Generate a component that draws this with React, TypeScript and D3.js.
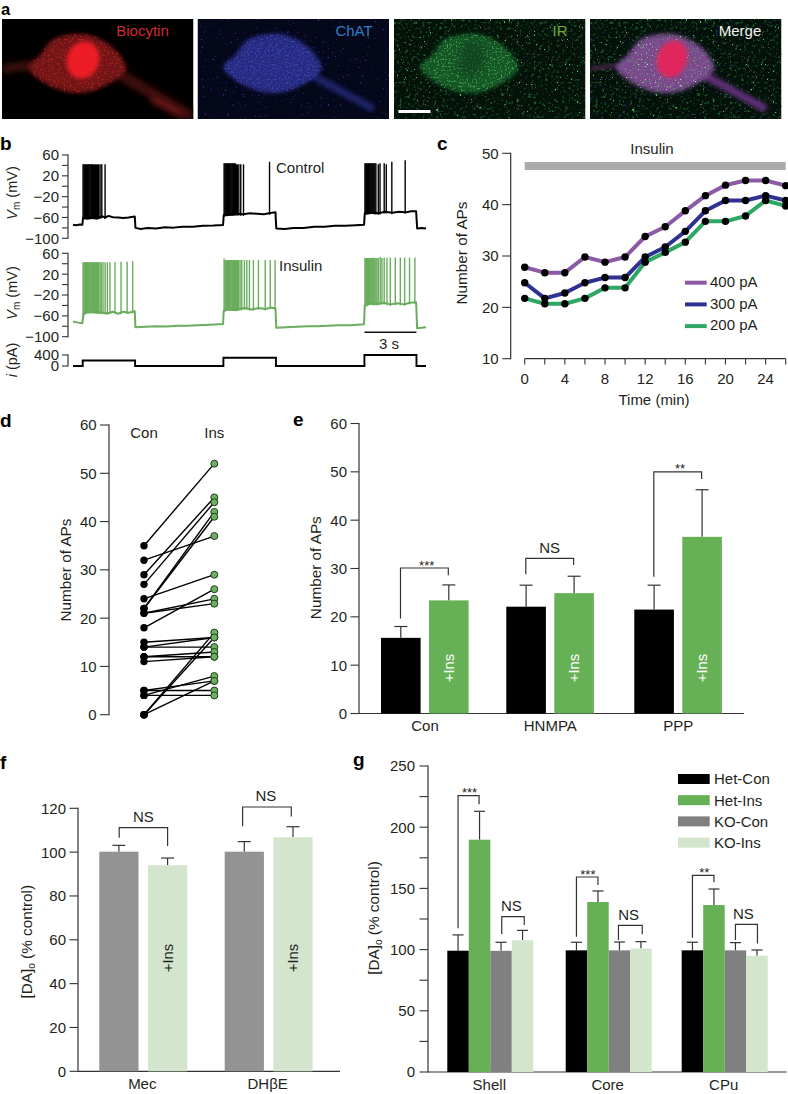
import React from "react";
import * as d3 from "d3";

/* ---------- data ---------- */
const INK = "#231f20";
const AX = "#333";
const GREEN = "#66b056";
const LGREEN = "#d3e5cc";
const GRAY = "#939393";
const DGRAY = "#808080";

// panel b: membrane potential (mV) knots against time (s)
const controlBase: [number, number][] = [[0,-74],[.2,-75],[.4,-73.5],[.54,-74],[.58,-60],[.8,-61],[1.1,-60],[1.4,-61],[1.7,-58],[1.85,-60],[2.05,-57],[2.3,-59.5],[2.6,-60],[2.9,-61],[3.2,-60],[3.56,-58],[3.6,-80],[3.9,-82],[4.3,-80],[4.8,-81],[5.3,-79],[5.8,-79.5],[6.3,-78],[6.9,-78],[7.5,-76],[8.1,-75.5],[8.65,-74.5],[8.69,-55],[9,-54],[9.4,-53],[9.8,-54],[10.2,-52],[10.6,-53],[11,-54],[11.3,-52],[11.67,-50],[11.72,-81],[12.2,-82],[12.7,-80],[13.3,-80],[13.9,-78],[14.5,-78],[15.1,-76],[15.7,-76],[16.3,-75],[16.78,-74],[16.82,-52],[17.2,-50],[17.6,-52],[18,-49],[18.4,-51],[18.8,-49],[19.2,-50],[19.5,-48],[19.78,-48],[19.84,-81],[20.1,-80],[20.35,-81]];
const insulinBase: [number, number][] = [[0,-71],[.3,-73],[.54,-74],[.6,-58],[.7,-53],[1,-52],[1.5,-53],[2,-55],[2.3,-52],[2.6,-56],[2.9,-52],[3.2,-54],[3.56,-51],[3.6,-82],[4.2,-81],[4.8,-80],[5.4,-80.5],[6,-79],[6.6,-79],[7.2,-78],[7.9,-77],[8.65,-75.5],[8.69,-50],[8.9,-47],[9.4,-48],[9.9,-45],[10.3,-48],[10.7,-45],[11.1,-47],[11.4,-44],[11.67,-46],[11.72,-83],[12.3,-82],[12.9,-81],[13.5,-80],[14.1,-80],[14.7,-79],[15.3,-78],[16,-78],[16.78,-76],[16.82,-40],[17.1,-36],[17.5,-37],[17.9,-35],[18.3,-38],[18.7,-36],[19.1,-38],[19.4,-35],[19.78,-34],[19.84,-84],[20.1,-83],[20.35,-82]];
const controlSpikes: [number, number][] = [[.58,42],[.63,42],[.68,42],[.73,42],[.78,42],[.83,42],[.88,42],[.93,42],[.98,42],[1.03,42],[1.08,42],[1.13,42],[1.18,42],[1.24,42],[1.3,42],[1.36,42],[1.42,42],[1.48,42],[1.56,42],[1.66,42],[1.85,42],
  [8.71,44],[8.76,44],[8.81,44],[8.86,44],[8.91,44],[8.96,44],[9.01,44],[9.06,44],[9.11,44],[9.16,44],[9.21,44],[9.26,44],[9.31,44],[9.36,44],[9.42,42],[9.48,42],[9.56,42],[9.67,42],[9.83,42],[11.33,47],
  [16.83,44],[16.88,44],[16.93,44],[16.98,44],[17.03,44],[17.08,44],[17.13,44],[17.18,44],[17.23,44],[17.28,44],[17.34,44],[17.4,44],[17.46,44],[17.6,42],[17.7,44],[17.94,44],[18.06,42],[18.38,47],[19.15,50]];
const insulinSpikes: [number, number][] = [[.58,43],[.63,43],[.68,43],[.73,43],[.78,43],[.83,43],[.88,43],[.93,43],[.98,43],[1.03,43],[1.08,43],[1.13,43],[1.18,43],[1.24,43],[1.3,43],[1.36,43],[1.42,43],[1.48,43],[1.56,43],[1.63,43],[1.73,43],[1.85,43],[1.98,43],[2.13,43],[2.42,44],[2.77,44],[3.12,44],[3.44,45],
  [8.71,50],[8.76,47],[8.81,47],[8.86,47],[8.91,47],[8.96,47],[9.01,47],[9.06,47],[9.11,47],[9.16,47],[9.21,47],[9.26,47],[9.31,47],[9.36,47],[9.42,47],[9.48,47],[9.54,47],[9.63,47],[9.73,47],[9.88,47],[10.02,47],[10.17,47],[10.4,47],[10.69,47],[11.08,47],[11.37,47],[11.65,47],
  [16.83,51],[16.88,51],[16.93,51],[16.98,51],[17.03,51],[17.08,51],[17.13,51],[17.18,51],[17.23,51],[17.28,52],[17.34,51],[17.4,51],[17.46,51],[17.52,51],[17.6,51],[17.71,53],[17.81,51],[17.94,52],[18.1,51],[18.29,52],[18.58,52],[18.87,52],[19.12,52],[19.4,52],[19.71,52]];
const currentT = [0, .56, 3.58, 8.67, 11.7, 16.8, 19.8, 20.35];
const currentPA = [0, 200, 0, 300, 0, 400, 0, 0];

// panel c
const cTimes = [0,2,4,6,8,10,12,14,16,18,20,22,24,26];
const c400 = [27.8,26.75,26.75,29.8,28.8,29.8,33.8,35.7,38.8,41.75,43.8,44.7,44.7,43.7];
const c300 = [24.8,21.75,22.8,24.8,25.8,25.8,29.8,31.75,34.8,38.8,40.8,40.8,41.75,40.8];
const c200 = [21.75,20.7,20.7,21.75,23.8,23.8,28.8,30.7,32.7,36.75,36.75,37.8,40.8,39.75];
const cLegend = ["400 pA","300 pA","200 pA"];
const cColors = ["#8c5aa5","#2e3191","#2ea764"];

// panel d (con -> ins)
const dCon = [35,32,29,27,24,22,22,21,21,18,15,14,14,12,12,11,5,5,4,4,0,0,0];
const dIns = [52,37,45,44,29,42,41,24,23,26,16,14,16,13,12,12,5,7,8,4,17,16,7];

// panel e
const eCats = ["Con","HNMPA","PPP"];
const eConV = [15.65,22.1,21.5];
const eConE = [18,26.55,26.55];
const eInsV = [23.4,24.9,36.55];
const eInsE = [26.6,28.4,46.3];

// panel f
const fCats = ["Mec","DHβE"];
const fConV = [100.2,100.2];
const fConE = [103.1,104.8];
const fInsV = [94,106.8];
const fInsE = [97.3,111.6];

// panel g
const gCats = ["Shell","Core","CPu"];
const gLegend = ["Het-Con","Het-Ins","KO-Con","KO-Ins"];
const gColors = ["#000000",GREEN,DGRAY,LGREEN];
const gHetConV = [99.1,99.4,99.4];
const gHetConE = [112,106,106];
const gHetInsV = [189.8,138.9,136.4];
const gHetInsE = [213,147.9,149.5];
const gKoConV = [99,99.4,99.4];
const gKoConE = [106,106.2,105.7];
const gKoInsV = [107.6,100.8,95];
const gKoInsE = [115.7,106.5,99.7];

/* ---------- scales ---------- */
const tX = d3.scaleLinear().domain([0,20.35]).range([73,426]);
const v1Y = d3.scaleLinear().domain([-100,60]).range([238.3,155]);
const v2Y = d3.scaleLinear().domain([-100,60]).range([336.7,253.3]);
const iY = d3.scaleLinear().domain([0,400]).range([366,355]);
const cX = d3.scaleLinear().domain([0,26]).range([524.7,785.7]);
const cY = d3.scaleLinear().domain([10,50]).range([358.7,153.3]);
const dY = d3.scaleLinear().domain([0,60]).range([714.7,425]);
const dX = d3.scalePoint<string>().domain(["Con","Ins"]).range([144,214.3]);
const eY = d3.scaleLinear().domain([0,60]).range([713.5,423.5]);
const fY = d3.scaleLinear().domain([0,120]).range([1071.3,808.3]);
const gY = d3.scaleLinear().domain([0,250]).range([1072,766]);

/* ---------- helpers ---------- */
const FONT = "'Liberation Sans', Arial, sans-serif";
const minus = (v: number) => String(v).replace("-", "\u2212");

function YAxis({ scale, x, ticks, labels, len = 8.5, gap = 4, size = 15 }: any) {
  const [a, b] = scale.range();
  return (
    <g>
      <line x1={x} x2={x} y1={a + 0.5} y2={b - 0.5} stroke={AX} strokeWidth={1.2} />
      {ticks.map((t: number) => (
        <line key={t} x1={x - len} x2={x} y1={scale(t)} y2={scale(t)} stroke={AX} strokeWidth={1.1} />
      ))}
      {labels.map((t: number) => (
        <text key={t} x={x - len - gap} y={scale(t) + size * 0.36} textAnchor="end" fontSize={size} fill={INK}>{minus(t)}</text>
      ))}
    </g>
  );
}

function VTitle({ x, y, children, size = 15.3 }: any) {
  return <text transform={`translate(${x},${y}) rotate(-90)`} textAnchor="middle" fontSize={size} fill={INK}>{children}</text>;
}

function Trace({ base, spikes, y, color }: any) {
  const line = d3.line<[number, number]>().x(d => tX(d[0])).y(d => y(d[1]));
  const baseAt = d3.scaleLinear().domain(base.map((d: any) => d[0])).range(base.map((d: any) => d[1]));
  return (
    <g stroke={color} fill="none">
      <path d={line(base) as string} strokeWidth={2} strokeLinejoin="round" />
      {spikes.map((s: [number, number], i: number) => (
        <line key={i} x1={tX(s[0])} x2={tX(s[0])} y1={y(baseAt(s[0]) - 3)} y2={y(s[1])} strokeWidth={1.4} />
      ))}
    </g>
  );
}

function ErrBar({ x, y0, y1, cap }: any) {
  return (
    <g stroke={AX} strokeWidth={1.2}>
      <line x1={x} x2={x} y1={y0} y2={y1} />
      <line x1={x - cap / 2} x2={x + cap / 2} y1={y1} y2={y1} />
    </g>
  );
}

function Bracket({ x0, x1, top, l, r, label, y, labelDx = 0 }: any) {
  const stars = label.startsWith("*");
  const cx = (x0 + x1) / 2 + labelDx;
  return (
    <g>
      <path d={`M${x0},${y(l)}V${y(top)}H${x1}V${y(r)}`} fill="none" stroke={AX} strokeWidth={1.2} />
      {stars
        ? <text x={cx} y={y(top) + 1.5} textAnchor="middle" fontSize={13} fill={INK}>{label}</text>
        : <text x={cx} y={y(top) - 5.7} textAnchor="middle" fontSize={15} fill={INK}>{label}</text>}
    </g>
  );
}

/* ---------- panel a ---------- */
const soma: [number, number][] = [[26,48],[38,36],[50,21],[82,15],[105,24],[118,36],[124,50],[108,64],[80,74],[50,68]];
const somaPath = d3.line().curve(d3.curveCatmullRomClosed)(soma) as string;

function Speck({ id, color, freq, k, off, seed }: any) {
  const c = d3.rgb(color);
  return (
    <filter id={id} x="0" y="0" width="100%" height="100%" colorInterpolationFilters="sRGB">
      <feTurbulence type="fractalNoise" baseFrequency={freq} numOctaves={2} seed={seed} />
      <feColorMatrix type="matrix" values={`0 0 0 0 ${c.r / 255} 0 0 0 0 ${c.g / 255} 0 0 0 0 ${c.b / 255} ${k} 0 0 0 ${off}`} />
      <feGaussianBlur stdDeviation={0.45} />
    </filter>
  );
}

function Micro({ x, idx, bg, children, label, labelColor, labelX }: any) {
  return (
    <g>
      <clipPath id={`img${idx}`}><rect x={0} y={0} width={191.5} height={100} /></clipPath>
      <g transform={`translate(${x},19)`} clipPath={`url(#img${idx})`}>
        <rect width={191.5} height={100} fill={bg} />
        {children}
      </g>
      <text x={labelX} y={36} textAnchor="middle" fontSize={15} fill={labelColor}>{label}</text>
    </g>
  );
}

function PanelA() {
  const rect = (f: string, op = 1) => <rect width={191.5} height={100} filter={`url(#${f})`} opacity={op} />;
  const cell = (f: string, op = 1) => <g clipPath="url(#somaClip)">{rect(f, op)}</g>;
  return (
    <g>
      <defs>
        <filter id="b1" x="-30%" y="-30%" width="160%" height="160%"><feGaussianBlur stdDeviation={2.2} /></filter>
        <filter id="b3" x="-30%" y="-30%" width="160%" height="160%"><feGaussianBlur stdDeviation={3.2} /></filter>
        <clipPath id="somaClip"><path d={somaPath} /></clipPath>
        <Speck id="sRed" color="#d8222a" freq={0.5} k={6} off={-3.2} seed={3} />
        <Speck id="sBlue" color="#4453c4" freq={0.55} k={6} off={-3.1} seed={5} />
        <Speck id="sBlueBg" color="#2f349a" freq={0.4} k={12} off={-8.6} seed={9} />
        <Speck id="sGreen" color="#45b856" freq={0.55} k={7} off={-3.9} seed={11} />
        <Speck id="sGreenBg" color="#1f6a30" freq={0.35} k={5} off={-2.9} seed={2} />
        <Speck id="sGreenHi" color="#5fcf6a" freq={0.4} k={12} off={-8.8} seed={14} />
        <Speck id="sWhite" color="#dff3c8" freq={0.6} k={10} off={-6.8} seed={7} />
      </defs>
      <Micro x={2} idx={1} bg="#000" label="Biocytin" labelColor="#d22a2e" labelX={142.5}>
        <g filter="url(#b3)">
          <path d="M0,50 L30,46" stroke="#4a1210" strokeWidth={7} />
          <path d="M112,52 L190,98" stroke="#3f0f0e" strokeWidth={11} />
          <path d="M150,80 L180,96" stroke="#6a1412" strokeWidth={7} />
        </g>
        <path d={somaPath} fill="#701514" filter="url(#b1)" />
        {cell("sRed", 0.55)}
        <ellipse cx={81} cy={41} rx={19} ry={16} transform="rotate(-70 81 41)" fill="#ee1c28" filter="url(#b1)" />
      </Micro>
      <Micro x={197.5} idx={2} bg="#05071a" label="ChAT" labelColor="#2c7fc4" labelX={354}>
        {rect("sBlueBg")}
        <path d="M112,55 L176,90" stroke="#1f2366" strokeWidth={8} filter="url(#b1)" />
        <path d={somaPath} fill="#262a80" filter="url(#b1)" />
        {cell("sBlue", 0.6)}
      </Micro>
      <Micro x={394} idx={3} bg="#05120a" label="IR" labelColor="#6fa83a" labelX={560}>
        {rect("sGreenBg", 0.8)}
        {rect("sGreenHi")}
        <path d={somaPath} fill="#125425" filter="url(#b1)" />
        {cell("sGreen", 0.7)}
        <ellipse cx={78} cy={40} rx={18} ry={13} transform="rotate(-70 78 40)" fill="#0f3a1a" opacity={0.6} filter="url(#b3)" />
      </Micro>
      <Micro x={590} idx={4} bg="#04100a" label="Merge" labelColor="#f2f2f2" labelX={740}>
        {rect("sGreenBg", 0.8)}
        {rect("sBlueBg", 0.8)}
        {rect("sGreenHi")}
        <path d="M112,55 L176,90" stroke="#5f2f78" strokeWidth={8} filter="url(#b1)" />
        <path d="M0,50 L30,46" stroke="#4f2650" strokeWidth={4} filter="url(#b1)" />
        <path d={somaPath} fill="#7d4690" filter="url(#b1)" />
        {cell("sGreen", 0.45)}
        {cell("sWhite", 0.8)}
        <ellipse cx={82} cy={40} rx={19} ry={15} transform="rotate(-70 82 40)" fill="#e0265c" filter="url(#b1)" />
      </Micro>
      <rect x={398.5} y={110} width={32} height={3} fill="#fff" />
    </g>
  );
}

/* ---------- panel b ---------- */
const mvTicks = d3.range(-100, 61, 20);
const mvLabels = [60, 20, -20, -60, -100];

function VmLabel({ y }: any) {
  return (
    <VTitle x={17} y={y} size={14.5}>
      <tspan fontStyle="italic">V</tspan><tspan dy={3} fontSize={10}>m</tspan><tspan dy={-3}> (mV)</tspan>
    </VTitle>
  );
}

function PanelB() {
  const iLine = d3.line<number>().x((_, i) => tX(currentT[i])).y(d => iY(d)).curve(d3.curveStepAfter);
  return (
    <g>
      <YAxis scale={v1Y} x={68} ticks={mvTicks} labels={mvLabels} len={6} gap={3} />
      <YAxis scale={v2Y} x={68} ticks={mvTicks} labels={mvLabels} len={6} gap={3} />
      <YAxis scale={iY} x={68} ticks={[0, 400]} labels={[0, 400]} len={6} gap={3} />
      <VmLabel y={193} />
      <VmLabel y={293} />
      <VTitle x={17} y={360} size={14.5}><tspan fontStyle="italic">i</tspan> (pA)</VTitle>
      <Trace base={controlBase} spikes={controlSpikes} y={v1Y} color="#000" />
      <Trace base={insulinBase} spikes={insulinSpikes} y={v2Y} color="#6aad5d" />
      <path d={iLine(currentPA) as string} fill="none" stroke="#000" strokeWidth={1.9} />
      <text x={276} y={172.7} fontSize={15} fill={INK}>Control</text>
      <text x={279} y={270.7} fontSize={15} fill={INK}>Insulin</text>
      <line x1={tX(16.8)} x2={tX(19.8)} y1={332.3} y2={332.3} stroke="#111" strokeWidth={1.6} />
      <text x={389} y={349} textAnchor="middle" fontSize={15} fill={INK}>3 s</text>
    </g>
  );
}

/* ---------- panel c ---------- */
function PanelC() {
  const series = [c200, c300, c400];
  const cols = [cColors[2], cColors[1], cColors[0]];
  const line = d3.line<number>().x((_, i) => cX(cTimes[i])).y(d => cY(d));
  return (
    <g>
      <YAxis scale={cY} x={510.7} ticks={[10,20,30,40,50]} labels={[10,20,30,40,50]} gap={3.5} />
      <rect x={cX(0)} y={162} width={cX(26) - cX(0)} height={8} fill="#aaaaaa" />
      <text x={652} y={154} textAnchor="middle" fontSize={15} fill={INK}>Insulin</text>
      <line x1={cX(0)} x2={cX(26)} y1={358.7} y2={358.7} stroke={AX} strokeWidth={1.2} />
      {cTimes.map(t => <line key={t} x1={cX(t)} x2={cX(t)} y1={358.7} y2={364.5} stroke={AX} strokeWidth={1.1} />)}
      {cTimes.filter(t => t % 4 === 0).map(t => (
        <text key={t} x={cX(t)} y={384} textAnchor="middle" fontSize={15} fill={INK}>{t}</text>
      ))}
      <text x={654} y={405} textAnchor="middle" fontSize={15} fill={INK}>Time (min)</text>
      <VTitle x={467} y={253}>Number of APs</VTitle>
      {series.map((s, k) => <path key={k} d={line(s) as string} fill="none" stroke={cols[k]} strokeWidth={4} strokeLinejoin="round" />)}
      {series.map((s, k) => s.map((v, i) => <circle key={`${k}-${i}`} cx={cX(cTimes[i])} cy={cY(v)} r={3.7} fill="#000" />))}
      {cLegend.map((t, i) => (
        <g key={t}>
          <line x1={685} x2={706.7} y1={282.7 + i * 21.7} y2={282.7 + i * 21.7} stroke={cColors[i]} strokeWidth={4} />
          <text x={710} y={287 + i * 21.7} fontSize={15} fill={INK}>{t}</text>
        </g>
      ))}
    </g>
  );
}

/* ---------- panel d ---------- */
function PanelD() {
  const t = [0,10,20,30,40,50,60];
  return (
    <g>
      <YAxis scale={dY} x={109} ticks={t} labels={t} len={9} gap={3.3} />
      <VTitle x={70.7} y={570}>Number of APs</VTitle>
      <text x={144} y={438} textAnchor="middle" fontSize={15} fill={INK}>Con</text>
      <text x={214.3} y={438} textAnchor="middle" fontSize={15} fill={INK}>Ins</text>
      {dCon.map((c, i) => (
        <line key={i} x1={dX("Con")} x2={dX("Ins")} y1={dY(c)} y2={dY(dIns[i])} stroke="#000" strokeWidth={1.4} />
      ))}
      {dCon.map((c, i) => <circle key={i} cx={dX("Con")} cy={dY(c)} r={3.7} fill="#000" />)}
      {dIns.map((c, i) => <circle key={i} cx={dX("Ins")} cy={dY(c)} r={3.5} fill="#6cb15f" stroke="#24381f" strokeWidth={1} />)}
    </g>
  );
}

/* ---------- panel e ---------- */
function PanelE() {
  const start = d3.scaleOrdinal<string, number>().domain(eCats).range([381, 506.3, 634.3]);
  const w = 39.6, step = 48;
  const t = [0,10,20,30,40,50,60];
  const brackets = [
    { c: 0, top: 30.1, l: 19.65, r: 28.6, label: "***", dx: 2.3 },
    { c: 1, top: 32.1, l: 28.8, r: 30.7, label: "NS", dx: 0 },
    { c: 2, top: 50, l: 28.3, r: 48.5, label: "**", dx: 2.3 },
  ];
  return (
    <g>
      <YAxis scale={eY} x={359} ticks={t} labels={t} gap={3.5} />
      <line x1={359} x2={744} y1={eY(0)} y2={eY(0)} stroke={AX} strokeWidth={1.2} />
      <VTitle x={321} y={567.7}>Number of APs</VTitle>
      {eCats.map((c, i) => {
        const x = start(c);
        return (
          <g key={c}>
            <ErrBar x={x + w / 2} y0={eY(eConV[i])} y1={eY(eConE[i])} cap={13} />
            <ErrBar x={x + step + w / 2} y0={eY(eInsV[i])} y1={eY(eInsE[i])} cap={13} />
            <rect x={x} y={eY(eConV[i])} width={w} height={eY(0) - eY(eConV[i])} fill="#000" />
            <rect x={x + step} y={eY(eInsV[i])} width={w} height={eY(0) - eY(eInsV[i])} fill={GREEN} />
            <text transform={`translate(${x + step + w / 2 + 5},668) rotate(-90)`} textAnchor="middle" fontSize={14.8} fill="#fff">+Ins</text>
            <text x={x + 44} y={730.7} textAnchor="middle" fontSize={15} fill={INK}>{c}</text>
          </g>
        );
      })}
      {brackets.map(b => {
        const x = start(eCats[b.c]);
        return <Bracket key={b.c} x0={x + w / 2 - .3} x1={x + step + w / 2 - .5} top={b.top} l={b.l} r={b.r} label={b.label} y={eY} labelDx={b.dx} />;
      })}
    </g>
  );
}

/* ---------- panel f ---------- */
function PanelF() {
  const start = d3.scaleOrdinal<string, number>().domain(fCats).range([99.3, 224.7]);
  const w = 39.2, step = 48.7;
  const t = [0,20,40,60,80,100,120];
  const brackets = [
    { c: 0, top: 111.2, l: 106.6, r: 102.8, dl: 0.3, dr: 0 },
    { c: 1, top: 120.6, l: 111.8, r: 116.3, dl: -1.7, dr: -1.7 },
  ];
  return (
    <g>
      <YAxis scale={fY} x={78} ticks={t} labels={t} gap={3.5} />
      <line x1={78} x2={340} y1={fY(0)} y2={fY(0)} stroke={AX} strokeWidth={1.2} />
      <VTitle x={31.7} y={941.7}>[DA]<tspan dy={3} fontSize={10}>o</tspan><tspan dy={-3}> (% control)</tspan></VTitle>
      {fCats.map((c, i) => {
        const x = start(c);
        return (
          <g key={c}>
            <ErrBar x={x + w / 2} y0={fY(fConV[i])} y1={fY(fConE[i])} cap={13} />
            <ErrBar x={x + step + w / 2} y0={fY(fInsV[i])} y1={fY(fInsE[i])} cap={13} />
            <rect x={x} y={fY(fConV[i])} width={w} height={fY(0) - fY(fConV[i])} fill={GRAY} />
            <rect x={x + step} y={fY(fInsV[i])} width={w} height={fY(0) - fY(fInsV[i])} fill={LGREEN} />
            <text transform={`translate(${x + step + w / 2 + 5},958) rotate(-90)`} textAnchor="middle" fontSize={14.8} fill={INK}>+Ins</text>
            <text x={x + 43} y={1089} textAnchor="middle" fontSize={15} fill={INK}>{c}</text>
          </g>
        );
      })}
      {brackets.map(b => {
        const x = start(fCats[b.c]);
        return <Bracket key={b.c} x0={x + w / 2 + b.dl} x1={x + step + w / 2 + b.dr} top={b.top} l={b.l} r={b.r} label="NS" y={fY} labelDx={b.c ? -1 : 0} />;
      })}
    </g>
  );
}

/* ---------- panel g ---------- */
function PanelG() {
  const start = d3.scaleOrdinal<string, number>().domain(gCats).range([447.3, 565.7, 681.7]);
  const w = 21.5;
  const vals = [gHetConV, gHetInsV, gKoConV, gKoInsV];
  const errs = [gHetConE, gHetInsE, gKoConE, gKoInsE];
  const ticks = d3.range(0, 251, 25);
  const labels = [0, 50, 100, 150, 200, 250];
  const brackets = [
    { c: 0, a: 0, b: 1, top: 225.8, l: 117.4, r: 218.7, label: "***", dx: 1, dl: 0, dr: -.5 },
    { c: 0, a: 2, b: 3, top: 126.9, l: 112.7, r: 120, label: "NS", dx: -1.7, dl: .7, dr: 1.7 },
    { c: 1, a: 0, b: 1, top: 159.3, l: 110.6, r: 152.8, label: "***", dx: .7, dl: 0, dr: 0 },
    { c: 1, a: 2, b: 3, top: 119.8, l: 107.8, r: 112.5, label: "NS", dx: -1.7, dl: -1, dr: 1.3 },
    { c: 2, a: 0, b: 1, top: 160.7, l: 109.7, r: 155, label: "**", dx: 1, dl: 0, dr: 0 },
    { c: 2, a: 2, b: 3, top: 120.6, l: 107.8, r: 105, label: "NS", dx: -3, dl: 0, dr: .5 },
  ];
  return (
    <g>
      <YAxis scale={gY} x={428} ticks={ticks} labels={labels} gap={4.5} />
      <line x1={428} x2={786.7} y1={gY(0)} y2={gY(0)} stroke={AX} strokeWidth={1.2} />
      <VTitle x={379} y={918}>[DA]<tspan dy={3} fontSize={10}>o</tspan><tspan dy={-3}> (% control)</tspan></VTitle>
      {gCats.map((c, i) => {
        const x = start(c);
        return (
          <g key={c}>
            {vals.map((v, k) => <ErrBar key={k} x={x + (k + .5) * w} y0={gY(v[i])} y1={gY(errs[k][i])} cap={11} />)}
            {vals.map((v, k) => <rect key={k} x={x + k * w} y={gY(v[i])} width={w} height={gY(0) - gY(v[i])} fill={gColors[k]} />)}
            <text x={x + 42} y={1090} textAnchor="middle" fontSize={15} fill={INK}>{c}</text>
          </g>
        );
      })}
      {brackets.map((b, i) => {
        const x = start(gCats[b.c]);
        return <Bracket key={i} x0={x + (b.a + .5) * w + b.dl} x1={x + (b.b + .5) * w + b.dr} top={b.top} l={b.l} r={b.r} label={b.label} y={gY} labelDx={b.dx} />;
      })}
      {gLegend.map((t, i) => (
        <g key={t}>
          <rect x={678} y={774 + i * 21.2} width={31.7} height={10} fill={gColors[i]} />
          <text x={714} y={784.3 + i * 21.2} fontSize={15} fill={INK}>{t}</text>
        </g>
      ))}
    </g>
  );
}

/* ---------- app ---------- */
const panelLabels: [string, number, number, number][] = [["a",1,15,16.5],["b",0,150,19],["c",437,150,19],["d",0,427,19],["e",293,426,19],["f",0,769,19],["g",353,766,19]];

export default function App() {
  return (
    <svg width={788} height={1094} viewBox="0 0 788 1094" style={{ position: "absolute", left: 0, top: 0, display: "block", background: "#fff" }} fontFamily={FONT}>
      <PanelA />
      <PanelB />
      <PanelC />
      <PanelD />
      <PanelE />
      <PanelF />
      <PanelG />
      {panelLabels.map(([t, x, y, s]) => (
        <text key={t} x={x} y={y} fontSize={s} fontWeight="bold" fill="#000">{t}</text>
      ))}
    </svg>
  );
}
